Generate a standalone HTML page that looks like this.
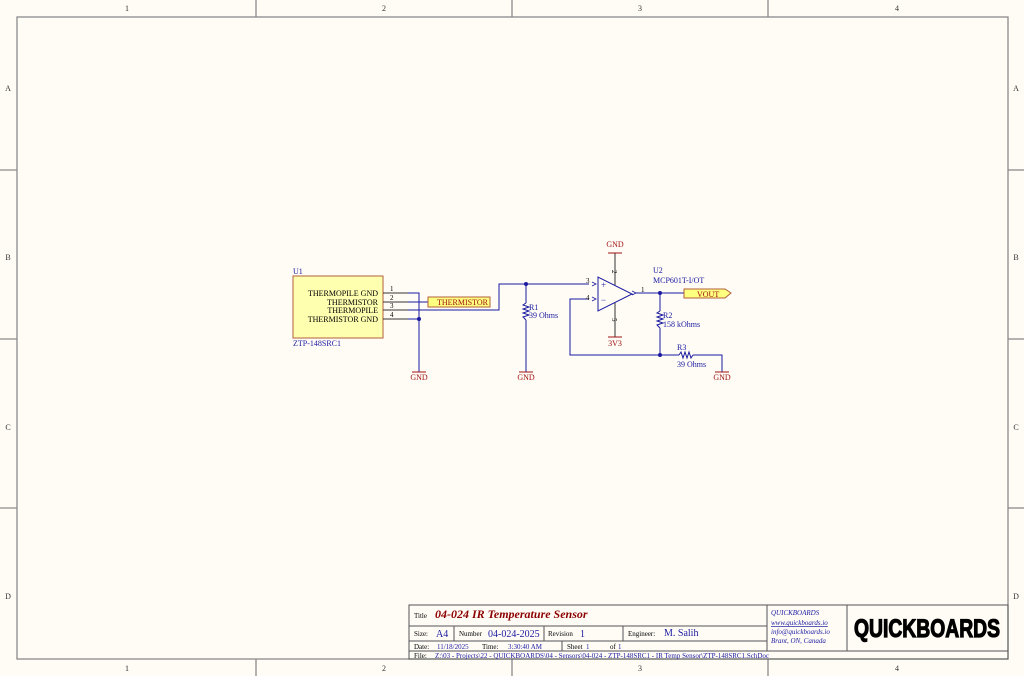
<!DOCTYPE html>
<html><head><meta charset="utf-8"><style>
html,body{margin:0;padding:0;background:#fffcf6;}
svg{display:block;}
text{font-family:"Liberation Serif",serif;}
</style></head><body>
<svg width="1024" height="676" viewBox="0 0 1024 676" xmlns="http://www.w3.org/2000/svg">
<rect x="0" y="0" width="1024" height="676" fill="#fffcf6"/>
<g stroke="#8a8a8a" stroke-width="1.3" fill="none">
<rect x="17" y="17" width="991" height="642"/>
<line x1="256" y1="0" x2="256" y2="17"/><line x1="512" y1="0" x2="512" y2="17"/><line x1="768" y1="0" x2="768" y2="17"/>
<line x1="256" y1="659" x2="256" y2="676"/><line x1="512" y1="659" x2="512" y2="676"/><line x1="768" y1="659" x2="768" y2="676"/>
<line x1="0" y1="170" x2="17" y2="170"/><line x1="0" y1="339" x2="17" y2="339"/><line x1="0" y1="508" x2="17" y2="508"/>
<line x1="1008" y1="170" x2="1024" y2="170"/><line x1="1008" y1="339" x2="1024" y2="339"/><line x1="1008" y1="508" x2="1024" y2="508"/>
</g>
<g font-size="8" fill="#333" text-anchor="middle">
<text x="127" y="11">1</text><text x="384" y="11">2</text><text x="640" y="11">3</text><text x="897" y="11">4</text>
<text x="127" y="671">1</text><text x="384" y="671">2</text><text x="640" y="671">3</text><text x="897" y="671">4</text>
<text x="8" y="91">A</text><text x="8" y="260">B</text><text x="8" y="430">C</text><text x="8" y="599">D</text>
<text x="1016" y="91">A</text><text x="1016" y="260">B</text><text x="1016" y="430">C</text><text x="1016" y="599">D</text>
</g>

<rect x="293" y="276" width="90" height="62" fill="#ffffb0" stroke="#b0603a" stroke-width="1"/>
<g font-size="8" fill="#000" text-anchor="end">
<text x="378" y="296">THERMOPILE GND</text><text x="378" y="305">THERMISTOR</text>
<text x="378" y="313">THERMOPILE</text><text x="378" y="322">THERMISTOR GND</text>
</g>
<text x="293" y="274" font-size="8" fill="#1a1aa0">U1</text>
<text x="293" y="346" font-size="8" fill="#1a1aa0">ZTP-148SRC1</text>
<g stroke="#333" stroke-width="1">
<line x1="383" y1="293" x2="408" y2="293"/><line x1="383" y1="302" x2="408" y2="302"/>
<line x1="383" y1="310" x2="408" y2="310"/><line x1="383" y1="319" x2="408" y2="319"/>
</g>
<g font-size="7" fill="#000"><text x="390" y="291">1</text><text x="390" y="300">2</text><text x="390" y="308">3</text><text x="390" y="317">4</text></g>
<g stroke="#1a1aa0" stroke-width="1" fill="none">
<polyline points="408,293 419,293 419,372"/>
<line x1="408" y1="319" x2="419" y2="319"/>
<line x1="408" y1="302" x2="428" y2="302"/>
<polyline points="408,310 499,310 499,284 526,284 589,284"/>
<line x1="526" y1="284" x2="526" y2="303"/><line x1="526" y1="320" x2="526" y2="372"/>
<polyline points="589,299 570,299 570,355 660,355"/>
<line x1="636" y1="293" x2="684" y2="293"/>
<line x1="660" y1="293" x2="660" y2="311"/><line x1="660" y1="328" x2="660" y2="355"/>
<line x1="660" y1="355" x2="679" y2="355"/><polyline points="693,355 722,355 722,372"/>
<polyline points="526,303 523,305 529,307 523,309 529,311 523,313 529,315 523,317 526,320"/>
<polyline points="660,311 657,313 663,315 657,317 663,319 657,321 663,323 657,325 660,328"/>
<polyline points="679,355 681,352 683,358 685,352 687,358 689,352 691,358 693,355"/>
</g>
<g fill="#1a1aa0"><circle cx="419" cy="319" r="2"/><circle cx="526" cy="284" r="2"/><circle cx="660" cy="293" r="2"/><circle cx="660" cy="355" r="2"/></g>
<rect x="428" y="297" width="62" height="10" fill="#ffff80" stroke="#b0603a" stroke-width="1"/>
<text x="437" y="305" font-size="8" fill="#a01010">THERMISTOR</text>

<polygon points="598,277 598,311 632,294" fill="none" stroke="#1a1aa0" stroke-width="1"/>
<g stroke="#333" stroke-width="1">
<line x1="615" y1="253" x2="615" y2="285"/><line x1="615" y1="303" x2="615" y2="337"/>
</g>
<g stroke="#1a1aa0" fill="none" stroke-width="0.8">
<polyline points="592,282 596,284 592,286"/><polyline points="592,297 596,299 592,301"/><polyline points="632,291 636,293 632,295"/>
</g>
<text x="601" y="288" font-size="9" fill="#1a1aa0">+</text><text x="601" y="303" font-size="9" fill="#1a1aa0">−</text>
<g font-size="7" fill="#000"><text x="586" y="283">3</text><text x="586" y="300">4</text><text x="641" y="292">1</text>
<text x="612" y="270" transform="rotate(90 612 270)">2</text><text x="612" y="318" transform="rotate(90 612 318)">5</text></g>
<text x="653" y="273" font-size="8" fill="#1a1aa0">U2</text>
<text x="653" y="283" font-size="8" fill="#1a1aa0">MCP601T-I/OT</text>
<polygon points="684,289 725,289 731,293 725,298 684,298" fill="#ffff80" stroke="#b0603a" stroke-width="1"/>
<text x="697" y="297" font-size="8" fill="#a01010">VOUT</text>
<g font-size="8" fill="#1a1aa0">
<text x="529" y="310">R1</text><text x="529" y="318">39 Ohms</text>
<text x="663" y="318">R2</text><text x="663" y="327">158 kOhms</text>
<text x="677" y="350">R3</text><text x="677" y="367">39 Ohms</text>
</g>
<g stroke="#a01010" stroke-width="1">
<line x1="412" y1="372" x2="426" y2="372"/><line x1="519" y1="372" x2="533" y2="372"/><line x1="715" y1="372" x2="729" y2="372"/>
<line x1="608" y1="253" x2="622" y2="253"/><line x1="608" y1="337" x2="622" y2="337"/>
</g>
<g font-size="8" fill="#a01010" text-anchor="middle">
<text x="419" y="380">GND</text><text x="526" y="380">GND</text><text x="722" y="380">GND</text>
<text x="615" y="247">GND</text><text x="615" y="346">3V3</text>
</g>

<g stroke="#555" stroke-width="1" fill="none">
<rect x="409" y="605" width="599" height="54"/>
<line x1="409" y1="626" x2="767" y2="626"/><line x1="409" y1="641" x2="767" y2="641"/>
<line x1="409" y1="651" x2="1008" y2="651"/>
<line x1="767" y1="605" x2="767" y2="651"/><line x1="847" y1="605" x2="847" y2="651"/>
<line x1="454" y1="626" x2="454" y2="641"/><line x1="544" y1="626" x2="544" y2="641"/><line x1="623" y1="626" x2="623" y2="641"/>
<line x1="562" y1="641" x2="562" y2="651"/>
</g>
<text x="414" y="618" font-size="7" fill="#000">Title</text>
<text x="435" y="618" font-size="12" font-weight="bold" font-style="italic" fill="#8b0000">04-024 IR Temperature Sensor</text>
<text x="414" y="636" font-size="7" fill="#000">Size:</text><text x="436" y="637" font-size="10" fill="#1a1aa0">A4</text>
<text x="459" y="636" font-size="7" fill="#000">Number</text><text x="488" y="637" font-size="10" fill="#1a1aa0">04-024-2025</text>
<text x="548" y="636" font-size="7" fill="#000">Revision</text><text x="580" y="637" font-size="10" fill="#1a1aa0">1</text>
<text x="628" y="636" font-size="7" fill="#000">Engineer:</text><text x="664" y="636" font-size="10" fill="#1a1aa0">M. Salih</text>
<g font-size="7"><text x="414" y="649" fill="#000">Date:</text><text x="437" y="649" fill="#1a1aa0">11/18/2025</text>
<text x="482" y="649" fill="#000">Time:</text><text x="508" y="649" fill="#1a1aa0">3:30:40 AM</text>
<text x="567" y="649" fill="#000">Sheet</text><text x="586" y="649" fill="#1a1aa0">1</text>
<text x="610" y="649" fill="#000">of</text><text x="618" y="649" fill="#1a1aa0">1</text>
<text x="414" y="658" fill="#000">File:</text><text x="435" y="658" fill="#1a1aa0">Z:\03 - Projects\22 - QUICKBOARDS\04 - Sensors\04-024 - ZTP-148SRC1 - IR Temp Sensor\ZTP-148SRC1.SchDoc</text></g>
<g font-size="7" font-style="italic" fill="#1a1aa0">
<text x="771" y="615">QUICKBOARDS</text><text x="771" y="625" text-decoration="underline">www.quickboards.io</text>
<text x="771" y="634">info@quickboards.io</text><text x="771" y="643">Brant, ON, Canada</text></g>
<text x="854" y="637" font-size="25" font-weight="bold" fill="#000" stroke="#000" stroke-width="1.2" style="font-family:'Liberation Sans',sans-serif;font-weight:bold" textLength="146" lengthAdjust="spacingAndGlyphs">QUICKBOARDS</text>
</svg>
</body></html>
